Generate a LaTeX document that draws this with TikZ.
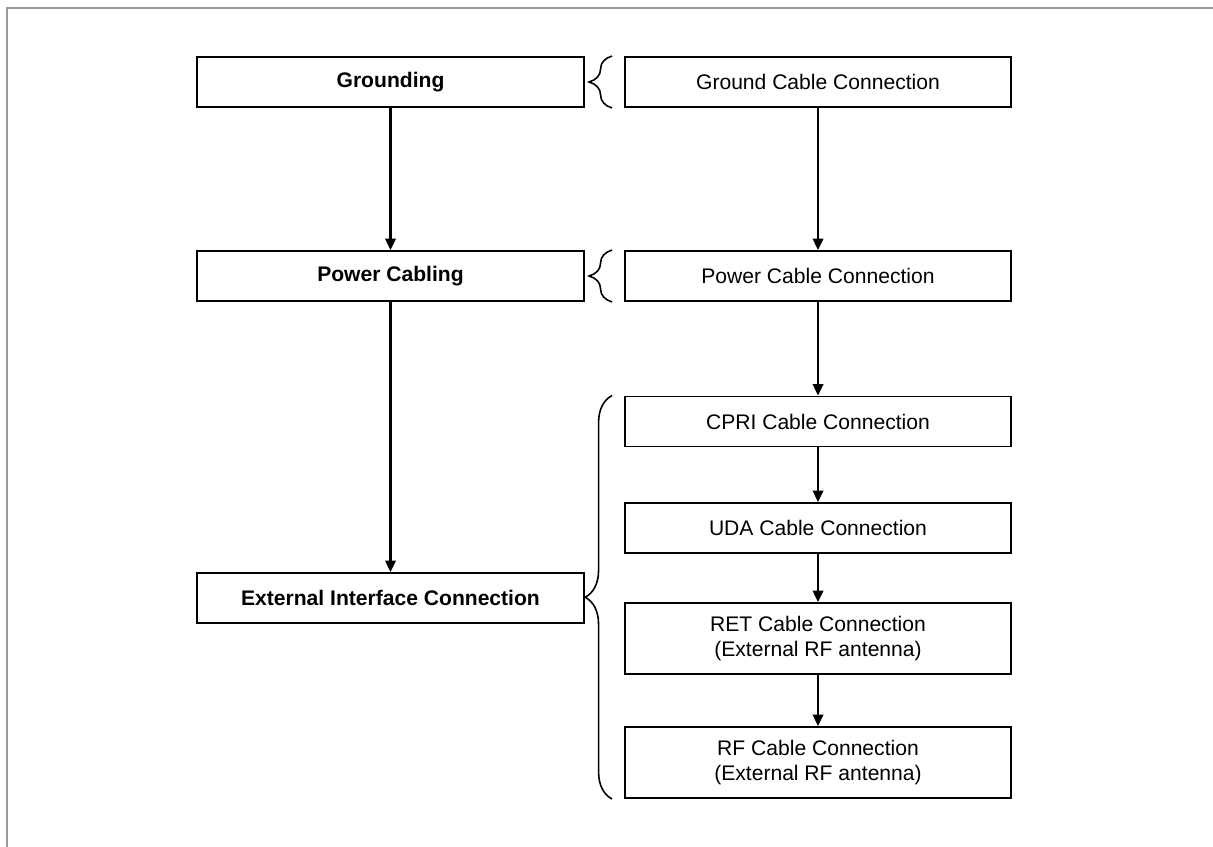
\documentclass[tikz,border=0pt]{standalone}
\usepackage{fontspec}
\setmainfont{Liberation Sans}
\usetikzlibrary{arrows.meta,calc,decorations.pathreplacing}

\begin{document}
\begin{tikzpicture}[
  x=0.02cm,y=-0.02cm,
  frame/.style={draw=black!40,line width=1.1pt},
  stage/.style={draw,line width=1.1pt,minimum width=7.74cm,minimum height=1cm,inner sep=0pt,
    font=\fontsize{12}{14}\selectfont\bfseries},
  task/.style={draw,line width=1.1pt,minimum width=7.72cm,minimum height=1cm,inner sep=0pt,
    align=center,font=\fontsize{12}{14}\selectfont},
  flow/.style={-{Triangle[length=2.3mm,width=2.1mm]},line width=1.3pt},
  group/.style={decorate,decoration={brace,amplitude=#1},line width=0.9pt},
]
\useasboundingbox (0,0) rectangle (1213,847);
\draw[frame] (7,847)--(7,8)--(1213,8);
% stages
\node[stage] (gnd) at (390.5,82) {Grounding};
\node[stage] (pwr) at (390.5,276) {Power Cabling};
\node[stage] (ext) at (390.5,598) {External Interface Connection};
% tasks
\node[task] (gcc) at (818,82) {Ground Cable Connection};
\node[task] (pcc) at (818,276) {Power Cable Connection};
\node[task] (cpri) at (818,421.5) {CPRI Cable Connection};
\node[task] (uda) at (818,528) {UDA Cable Connection};
\node[task,minimum height=1.42cm] (ret) at (818,638.5) {RET Cable Connection\\(External RF antenna)};
\node[task,minimum height=1.42cm] (rf) at (818,762.5) {RF Cable Connection\\(External RF antenna)};
\draw[flow] (gnd)--(pwr);
\draw[flow] (pwr)--(ext);
\draw[flow] (gcc)--(pcc);
\draw[flow] (pcc)--(cpri);
\draw[flow] (cpri)--(uda);
\draw[flow] (uda)--(ret);
\draw[flow] (ret)--(rf);
% braces
\draw[group=0.46cm] ($(gcc.south west)+(-12,0)$)--($(gcc.north west)+(-12,0)$);
\draw[group=0.46cm] ($(pcc.south west)+(-12,0)$)--($(pcc.north west)+(-12,0)$);
\draw[group=0.54cm] ($(rf.south west)+(-12,0)$)--($(cpri.north west)+(-12,0)$);
\end{tikzpicture}
\end{document}
